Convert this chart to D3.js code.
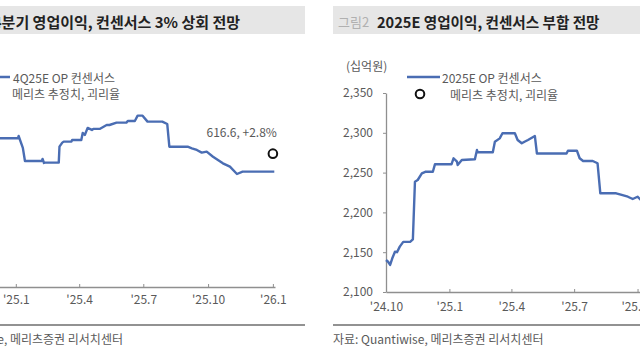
<!DOCTYPE html>
<html><head><meta charset="utf-8">
<script src="https://cdn.jsdelivr.net/npm/d3@7"></script>
<style>
html,body{margin:0;padding:0;background:#fff;}
svg{display:block;font-family:"Noto Sans CJK KR","Noto Sans",sans-serif;}
</style></head>
<body>
<svg id="c" width="640" height="360"></svg>
<script>
// ---- data ----
const xTickDates = ["2024-10-01","2025-01-01","2025-04-01","2025-07-01","2025-10-01","2026-01-01"];
const xTickLabels = ["'24.10","'25.1","'25.4","'25.7","'25.10","'26.1"];

const leftTitleFig = "그림1";
const leftTitle = "4분기 영업이익, 컨센서스 3% 상회 전망";
const leftSeriesName = "4Q25E OP 컨센서스";
const leftDates = ["2024-12-01","2025-01-04","2025-01-05","2025-01-11","2025-01-14","2025-02-07","2025-02-08","2025-02-10","2025-02-11","2025-03-03","2025-03-04","2025-03-08","2025-03-10","2025-03-21","2025-03-22","2025-04-04","2025-04-06","2025-04-09","2025-04-13","2025-04-19","2025-04-21","2025-04-30","2025-05-10","2025-05-14","2025-05-24","2025-06-07","2025-06-09","2025-06-19","2025-06-23","2025-06-30","2025-07-07","2025-07-28","2025-08-04","2025-08-07","2025-09-02","2025-09-08","2025-09-15","2025-09-22","2025-09-29","2025-10-08","2025-10-22","2025-11-01","2025-11-11","2025-11-19","2026-01-03"];
const leftValues = [630.3,630.3,632.3,621.7,610.1,610.1,611.9,608.3,608.6,608.6,622.8,626.4,627.3,627.3,628.8,628.8,635.0,633.2,639.5,637.7,638.6,638.6,642.1,642.1,644.2,644.2,645.7,645.7,650.4,650.4,645.1,645.1,643.0,622.8,622.8,621.4,619.9,617.5,618.4,613.9,608.0,605.0,598.5,600.6,600.6];
const leftEstimateDate = "2026-01-01";
const leftEstimate = 616.6;
const leftEstimateLabel = "616.6, +2.8%";

const rightTitleFig = "그림2";
const rightTitle = "2025E 영업이익, 컨센서스 부합 전망";
const rightSeriesName = "2025E OP 컨센서스";
const rightUnit = "(십억원)";
const rightYTicks = [2100,2150,2200,2250,2300,2350];
const rightDates = ["2024-10-01","2024-10-04","2024-10-07","2024-10-10","2024-10-14","2024-10-17","2024-10-21","2024-10-26","2024-11-05","2024-11-09","2024-11-12","2024-11-16","2024-11-22","2024-11-27","2024-12-08","2024-12-11","2025-01-04","2025-01-07","2025-01-12","2025-01-13","2025-01-19","2025-02-07","2025-02-10","2025-02-11","2025-03-05","2025-03-08","2025-03-15","2025-03-19","2025-04-06","2025-04-10","2025-04-16","2025-04-20","2025-04-25","2025-05-05","2025-05-08","2025-06-20","2025-06-22","2025-07-05","2025-07-09","2025-07-14","2025-07-28","2025-08-04","2025-08-08","2025-08-31","2025-09-08","2025-09-17","2025-09-24","2025-10-01","2025-10-06"];
const rightValues = [2140.2,2138,2134,2142,2150.6,2150,2157,2163,2163,2166,2238.6,2240.7,2249,2251,2251,2260.4,2260.4,2268,2263.7,2259.5,2265.8,2266.7,2278.4,2275.5,2275.5,2288.8,2293,2299.4,2299.4,2291,2286.8,2288.8,2291,2296,2274,2274,2277.5,2277.5,2268,2264.6,2264.6,2261.7,2224,2224,2221.9,2219.7,2216.8,2219.7,2215.6];

const estimateName = "메리츠 추정치, 괴리율";
const sourceText = "자료: Quantiwise, 메리츠증권 리서치센터";

// ---- drawing ----
const parse = d3.timeParse("%Y-%m-%d");
const svg = d3.select("#c");
const LINE = "#4a6db3", AX = "#8f8f8f", TXT = "#5a5a5a";

function titleBar(x0, x1, fig, title, endAt, size) {
  svg.append("rect").attr("x", x0).attr("y", 6).attr("width", x1 - x0).attr("height", 28).attr("fill", "#e6e6e6");
  if (endAt != null) {
    const t = svg.append("text").attr("y", 21).attr("dominant-baseline", "central").attr("x", endAt).attr("text-anchor", "end");
    t.append("tspan").attr("fill", "#b0b0b0").attr("font-size", 13).text(fig + "  ");
    t.append("tspan").attr("fill", "#222").attr("font-size", size).attr("font-weight", "bold").text(title);
  } else {
    svg.append("text").attr("x", x0 + 5).attr("y", 21).attr("dominant-baseline", "central")
      .attr("fill", "#b0b0b0").attr("font-size", 13).text(fig);
    svg.append("text").attr("x", x0 + 44).attr("y", 21).attr("dominant-baseline", "central")
      .attr("fill", "#222").attr("font-size", size).attr("font-weight", "bold").text(title);
  }
}
function source(x0, x1, tx, anchor) {
  svg.append("line").attr("x1", x0).attr("x2", x1).attr("y1", 325).attr("y2", 325).attr("stroke", "#6e6e6e").attr("stroke-width", 1.5);
  svg.append("text").attr("x", tx).attr("y", 338).attr("text-anchor", anchor).attr("dominant-baseline", "central")
    .attr("font-size", 12).attr("fill", TXT).text(sourceText);
}
function styleAxis(g) {
  g.select(".domain").attr("stroke", AX).attr("stroke-width", 1.3);
  g.selectAll(".tick line").attr("stroke", AX);
  g.selectAll(".tick text").attr("fill", TXT).attr("font-size", 12).attr("font-family", '"Noto Sans CJK KR","Noto Sans",sans-serif');
}
function legend(lx0, lx1, ly, tx1, cx, tx2, ly2, name) {
  svg.append("line").attr("x1", lx0).attr("x2", lx1).attr("y1", ly).attr("y2", ly).attr("stroke", LINE).attr("stroke-width", 2.4);
  svg.append("text").attr("x", tx1).attr("y", ly).attr("dominant-baseline", "central").attr("font-size", 12).attr("fill", TXT).text(name);
  svg.append("circle").attr("cx", cx).attr("cy", ly2).attr("r", 4.3).attr("fill", "#fff").attr("stroke", "#111").attr("stroke-width", 2);
  svg.append("text").attr("x", tx2).attr("y", ly2).attr("dominant-baseline", "central").attr("font-size", 12).attr("fill", TXT).text(estimateName);
}

// Left panel
{
  const x = d3.scaleTime().domain([parse("2024-10-01"), parse("2026-01-04")]).range([-49, 275]);
  const y = d3.scaleLinear().domain([498, 675]).range([287, 88]);
  titleBar(-92, 305, leftTitleFig, leftTitle, 240, 15);
  const gx = svg.append("g").attr("transform", "translate(0,287)")
    .call(d3.axisBottom(x).tickValues(xTickDates.map(parse)).tickSizeInner(-3).tickSizeOuter(0).tickPadding(8)
      .tickFormat((d, i) => xTickLabels[i]));
  styleAxis(gx);
  const data = leftDates.map((d, i) => ({ d: parse(d), v: leftValues[i] }));
  svg.append("path").datum(data).attr("fill", "none").attr("stroke", LINE).attr("stroke-width", 2.4).attr("stroke-linejoin", "round")
    .attr("d", d3.line().x(p => x(p.d)).y(p => y(p.v)));
  svg.append("circle").attr("cx", x(parse(leftEstimateDate))).attr("cy", y(leftEstimate)).attr("r", 4.3)
    .attr("fill", "#fff").attr("stroke", "#111").attr("stroke-width", 2);
  svg.append("text").attr("x", x(parse(leftEstimateDate)) + 4).attr("y", y(leftEstimate) - 22).attr("text-anchor", "end")
    .attr("dominant-baseline", "central").attr("font-size", 12).attr("fill", TXT).text(leftEstimateLabel);
  legend(-25, 10, 77, 13, -18, 12, 93, leftSeriesName);
  source(-92, 305, 123, "end");
}

// Right panel
{
  const x = d3.scaleTime().domain([parse("2024-10-01"), parse("2026-01-04")]).range([386, 703]);
  const y = d3.scaleLinear().domain([2100, 2350]).range([292, 93]);
  titleBar(333, 730, rightTitleFig, rightTitle, null, 14.6);
  svg.append("text").attr("x", 346).attr("y", 65).attr("dominant-baseline", "central").attr("font-size", 12).attr("fill", TXT).text(rightUnit);
  const gy = svg.append("g").attr("transform", "translate(386,0)")
    .call(d3.axisLeft(y).tickValues(rightYTicks).tickSizeInner(3).tickSizeOuter(0).tickPadding(10).tickFormat(d3.format(",")));
  styleAxis(gy);
  const gx = svg.append("g").attr("transform", "translate(0,292)")
    .call(d3.axisBottom(x).tickValues(xTickDates.map(parse)).tickSizeInner(-3).tickSizeOuter(0).tickPadding(10)
      .tickFormat((d, i) => xTickLabels[i]));
  styleAxis(gx);
  const data = rightDates.map((d, i) => ({ d: parse(d), v: rightValues[i] }));
  svg.append("path").datum(data).attr("fill", "none").attr("stroke", LINE).attr("stroke-width", 2.4).attr("stroke-linejoin", "round")
    .attr("d", d3.line().x(p => x(p.d)).y(p => y(p.v)));
  legend(407, 440, 77, 442, 420, 450, 94, rightSeriesName);
  source(333, 730, 333, "start");
}
</script>
</body></html>
